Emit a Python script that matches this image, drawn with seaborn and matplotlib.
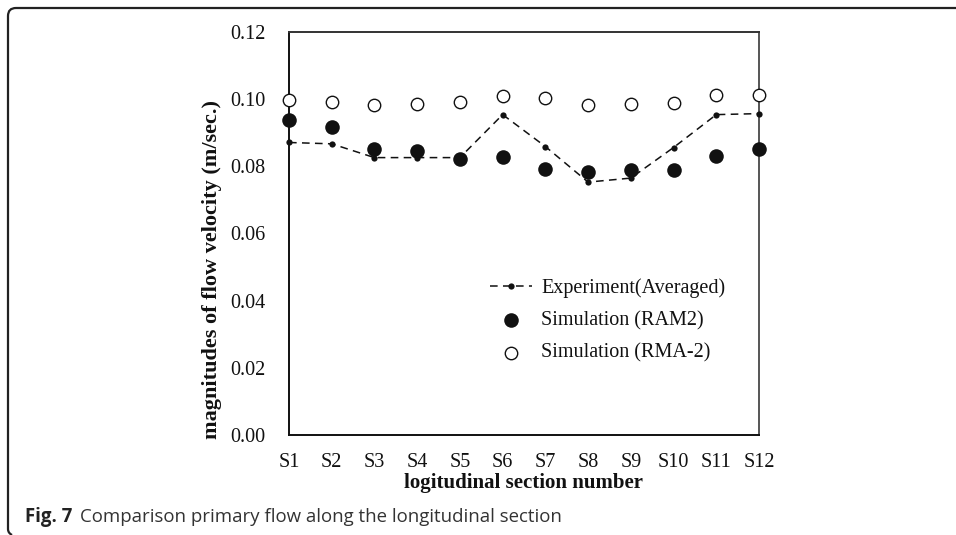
import matplotlib
matplotlib.use("Agg")
import matplotlib.pyplot as plt
import seaborn as sns
import pandas as pd
from matplotlib.path import Path
from matplotlib.patches import PathPatch
from matplotlib.ticker import FormatStrFormatter

sections = ["S1", "S2", "S3", "S4", "S5", "S6", "S7", "S8", "S9", "S10", "S11", "S12"]
experiment = [0.0871, 0.0867, 0.0826, 0.0826, 0.0826, 0.0954, 0.0859, 0.0753, 0.0765, 0.0856, 0.0954, 0.0957]
sim_ram2 = [0.0938, 0.0917, 0.0852, 0.0845, 0.0822, 0.0828, 0.0792, 0.0782, 0.0788, 0.0788, 0.0831, 0.0852]
sim_rma2 = [0.0997, 0.0993, 0.0982, 0.0985, 0.0991, 0.1010, 0.1003, 0.0983, 0.0986, 0.0990, 0.1013, 0.1013]
yticks = [0.00, 0.02, 0.04, 0.06, 0.08, 0.10, 0.12]

df = pd.DataFrame({
    "pos": list(range(len(sections))),
    "section": sections,
    "exp": experiment,
    "ram2": sim_ram2,
    "rma2": sim_rma2,
})

sns.set_theme(style="white")
plt.rcParams["font.family"] = ["Liberation Serif", "DejaVu Serif"]

W, H = 956, 535
fig = plt.figure(figsize=(W / 100, H / 100), dpi=100)
ax = fig.add_axes([289 / W, 1 - 435 / H, (759 - 289) / W, (435 - 32) / H])

sns.lineplot(data=df, x="pos", y="exp", ax=ax, color="#111111", linewidth=1.1,
             linestyle=(0, (5, 3.5)), marker="o", markersize=4.5,
             markeredgewidth=0, label="Experiment(Averaged)", clip_on=False, zorder=3)
sns.scatterplot(data=df, x="pos", y="ram2", ax=ax, color="#111111", s=110,
                edgecolor="#111111", linewidth=0, label="Simulation (RAM2)",
                clip_on=False, zorder=4)
sns.scatterplot(data=df, x="pos", y="rma2", ax=ax, facecolor="white", s=80,
                edgecolor="#111111", linewidth=1.0, label="Simulation (RMA-2)",
                clip_on=False, zorder=4)

ax.set_xlim(0, len(sections) - 1)
ax.set_ylim(yticks[0], yticks[-1])
ax.set_xticks(df["pos"])
ax.set_xticklabels(sections)
ax.set_yticks(yticks)
ax.yaxis.set_major_formatter(FormatStrFormatter("%.2f"))
ax.tick_params(axis="both", direction="in", length=6, width=1.0, colors="#111111",
               labelsize=14.5, labelcolor="#111111")
ax.tick_params(axis="y", pad=17)
ax.tick_params(axis="x", pad=13)
for side, sp in ax.spines.items():
    sp.set_visible(True)
    sp.set_color("#111111")
    sp.set_linewidth(1.4)
ax.spines["right"].set_color("#555555")
ax.spines["top"].set_color("#333333")

ax.set_xlabel("logitudinal section number", fontsize=15, fontweight="bold",
              color="#111111")
ax.xaxis.set_label_coords(0.5, (435 - 483) / 403, transform=ax.transAxes)
ax.xaxis.label.set_va("center")
ax.set_ylabel("magnitudes of flow velocity (m/sec.)", fontsize=16, fontweight="bold",
              color="#111111")
ax.yaxis.set_label_coords((212 - 289) / 470, (435 - 270) / 403, transform=ax.transAxes)
ax.yaxis.label.set_va("center")

leg = ax.legend(loc="upper left", bbox_to_anchor=(490 / W, 1 - 278 / H),
                bbox_transform=fig.transFigure, frameon=False, fontsize=14.5,
                borderpad=0, borderaxespad=0, handlelength=2.1, handletextpad=0.45,
                labelspacing=0.66)
for t in leg.get_texts():
    t.set_color("#111111")

# outer panel frame (decorative)
verts = [(W, H - 8), (16, H - 8), (8, H - 8), (8, H - 16), (8, 6), (8, 2), (12, 0)]
codes = [Path.MOVETO, Path.LINETO, Path.CURVE3, Path.CURVE3, Path.LINETO, Path.CURVE3, Path.CURVE3]
verts = [(x / W, y / H) for x, y in verts]
fig.patches.append(PathPatch(Path(verts, codes), transform=fig.transFigure,
                             fill=False, edgecolor="#222222", linewidth=1.6))

fig.text(25 / W, 1 - 517 / H, "Fig. 7", fontsize=13.4, fontweight="bold",
         family=["Open Sans", "DejaVu Sans"], color="#222222", va="center", ha="left")
fig.text(80 / W, 1 - 517 / H, "Comparison primary flow along the longitudinal section",
         fontsize=13.4, family=["Open Sans", "DejaVu Sans"], color="#333333",
         va="center", ha="left")

fig.savefig("out.png", dpi=100)
